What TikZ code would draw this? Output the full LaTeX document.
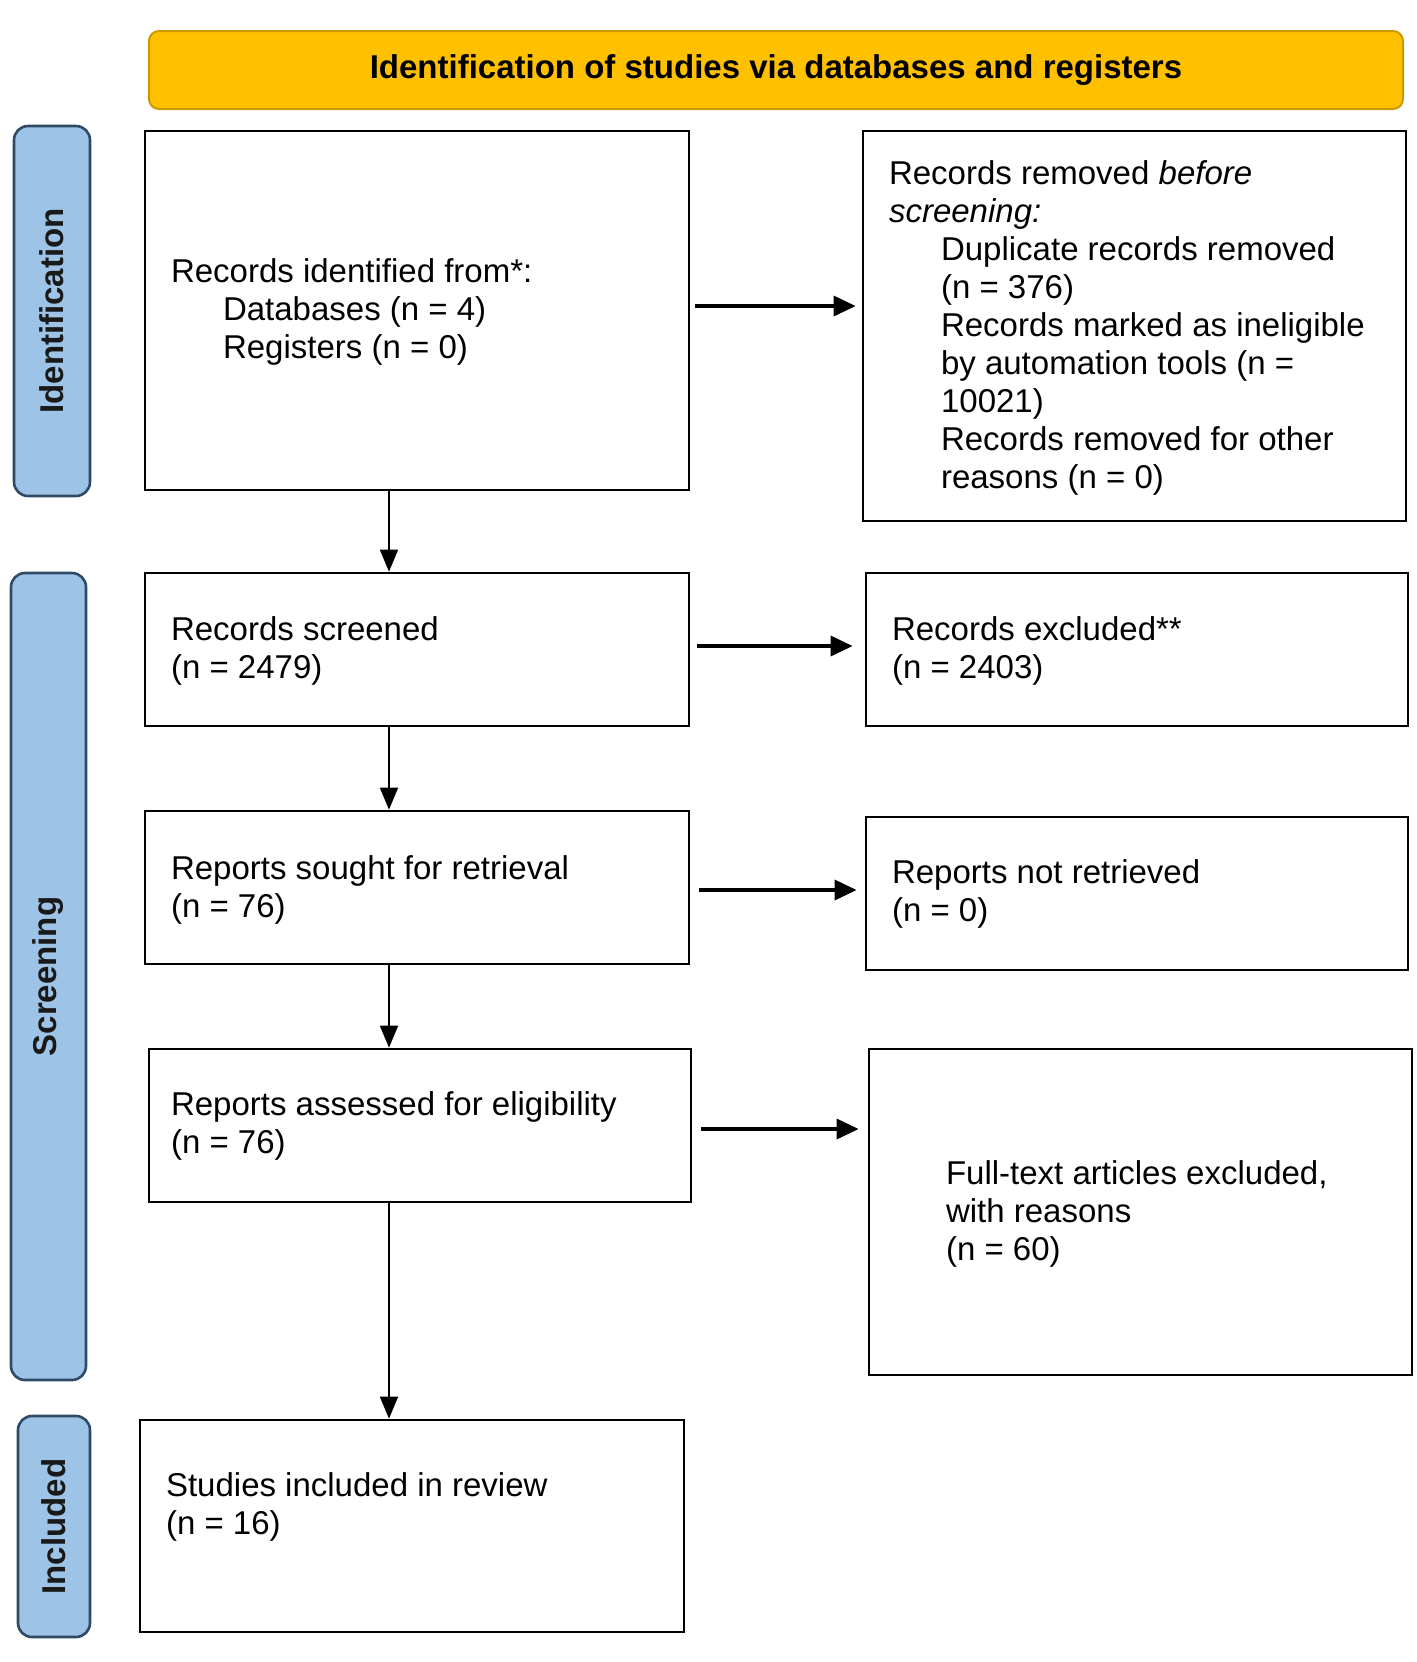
\documentclass[tikz,border=0pt]{standalone}
\usepackage{fontspec}
\setmainfont{Liberation Sans}
\usetikzlibrary{arrows.meta}
\definecolor{bannerfill}{HTML}{FFC000}
\definecolor{bannerdraw}{HTML}{C99A00}
\definecolor{labfill}{HTML}{9DC3E6}
\definecolor{labdraw}{HTML}{2E4A66}
\begin{document}
\begin{tikzpicture}[x=0.5pt,y=-0.5pt,
  box/.style={draw=black, line width=1.35pt, fill=white, inner sep=0},
  txt/.style={anchor=west, align=left, inner sep=0, font=\fontsize{16.5}{19}\selectfont},
  banner/.style={draw=bannerdraw, fill=bannerfill, rounded corners=5pt, line width=1pt, inner sep=0,
    font=\bfseries\fontsize{16.5}{19}\selectfont},
  lab/.style={draw=labdraw, fill=labfill, rounded corners=7pt, line width=1.3pt, inner sep=0,
    rotate=90, font=\bfseries\fontsize{16.5}{19}\selectfont, text=black!90},
  varrow/.style={line width=0.9pt, -{Triangle[length=11pt,width=9pt]}},
  harrow/.style={line width=1.7pt, -{Triangle[length=11pt,width=10pt]}}
]
\useasboundingbox (0,0) rectangle (1417,1662);

\node[banner, minimum width=627pt, minimum height=39pt] (ban) at (776,70) {Identification of studies via databases and registers};

\node[lab, minimum width=185pt, minimum height=38pt] (l1) at (52,311) {Identification};
\node[lab, minimum width=403.5pt, minimum height=37.5pt] (l2) at (48.5,976.5) {Screening};
\node[lab, minimum width=110.5pt, minimum height=36pt] (l3) at (54,1526.5) {Included};

\node[box, minimum width=272pt, minimum height=179.5pt] (id) at (417,310.5) {};
\node[box, minimum width=271.5pt, minimum height=195pt] (rem) at (1134.5,326) {};
\node[box, minimum width=272pt, minimum height=76.5pt] (scr) at (417,649.5) {};
\node[box, minimum width=271pt, minimum height=76.5pt] (exc) at (1137,649.5) {};
\node[box, minimum width=272pt, minimum height=76.5pt] (sou) at (417,887.5) {};
\node[box, minimum width=271pt, minimum height=76.5pt] (ret) at (1137,893.5) {};
\node[box, minimum width=271pt, minimum height=76.5pt] (ass) at (420,1125.5) {};
\node[box, minimum width=271.5pt, minimum height=163pt] (ful) at (1140.5,1212) {};
\node[box, minimum width=272pt, minimum height=106pt] (inc) at (412,1526) {};

\node[txt] (idt) at ([xshift=13.5pt,yshift=-0.75pt]id.west)
  {Records identified from*:\\\hspace*{26pt}Databases (n = 4)\\\hspace*{26pt}Registers (n = 0)};
\node[txt] (remt) at ([xshift=13.5pt,yshift=-0.75pt]rem.west)
  {Records removed \textit{before}\\\textit{screening:}\\
   \hspace*{26pt}Duplicate records removed\\\hspace*{26pt}(n = 376)\\
   \hspace*{26pt}Records marked as ineligible\\\hspace*{26pt}by automation tools (n =\\\hspace*{26pt}10021)\\
   \hspace*{26pt}Records removed for other\\\hspace*{26pt}reasons (n = 0)};
\node[txt] (scrt) at ([xshift=13.5pt,yshift=-0.75pt]scr.west) {Records screened\\(n = 2479)};
\node[txt] (exct) at ([xshift=13.5pt,yshift=-0.75pt]exc.west) {Records excluded**\\(n = 2403)};
\node[txt] (sout) at ([xshift=13.5pt,yshift=-1.25pt]sou.west) {Reports sought for retrieval\\(n = 76)};
\node[txt] (rett) at ([xshift=13.5pt,yshift=-0.25pt]ret.west) {Reports not retrieved\\(n = 0)};
\node[txt] (asst) at ([xshift=11.5pt,yshift=-0.25pt]ass.west) {Reports assessed for eligibility\\(n = 76)};
\node[txt] (fult) at ([xshift=39pt,yshift=-1pt]ful.west) {Full-text articles excluded,\\with reasons\\(n = 60)};
\node[txt] (inct) at ([xshift=13.5pt,yshift=9.5pt]inc.west) {Studies included in review\\(n = 16)};

\coordinate (ax) at (389,0);
\draw[varrow] (id.south -| ax) -- (scr.north -| ax);
\draw[varrow] (scr.south -| ax) -- (sou.north -| ax);
\draw[varrow] (sou.south -| ax) -- (ass.north -| ax);
\draw[varrow] (ass.south -| ax) -- (inc.north -| ax);

\draw[harrow, shorten <=2.5pt, shorten >=3pt] ([yshift=2.25pt]id.east) -- ([yshift=2.25pt]id.east -| rem.west);
\draw[harrow, shorten <=3.5pt, shorten >=6pt] ([yshift=1.75pt]scr.east) -- ([yshift=1.75pt]scr.east -| exc.west);
\draw[harrow, shorten <=4.5pt, shorten >=4pt] ([yshift=-1.25pt]sou.east) -- ([yshift=-1.25pt]sou.east -| ret.west);
\draw[harrow, shorten <=4.5pt, shorten >=4.5pt] ([yshift=-1.75pt]ass.east) -- ([yshift=-1.75pt]ass.east -| ful.west);
\end{tikzpicture}
\end{document}
